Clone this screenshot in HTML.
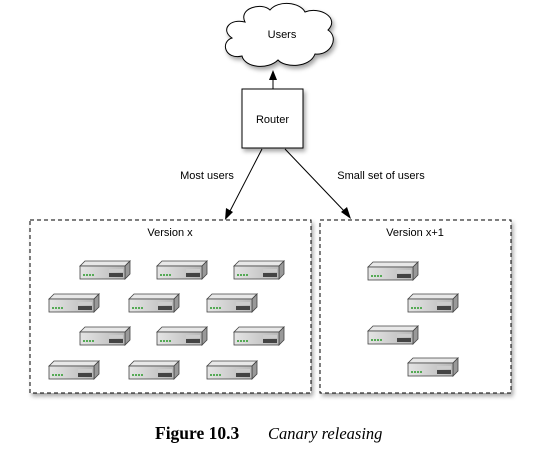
<!DOCTYPE html>
<html><head><style>
html,body{margin:0;padding:0;background:#fff;width:542px;height:450px;overflow:hidden}
</style></head><body>
<svg width="542" height="450" viewBox="0 0 542 450" xmlns="http://www.w3.org/2000/svg">
<defs>
<filter id="sh" x="-20%" y="-20%" width="150%" height="150%"><feDropShadow dx="2" dy="3" stdDeviation="2" flood-color="#000" flood-opacity="0.35"/></filter>
<linearGradient id="fr" x1="0" y1="0" x2="1" y2="0"><stop offset="0" stop-color="#e4e4e4"/><stop offset="1" stop-color="#b8b8b8"/></linearGradient>
<g id="srv">
<polygon points="0,5 5,0 50,0 45,5" fill="#e8e8e8" stroke="#444" stroke-width="0.8"/>
<polygon points="45,5 50,0 50,13 45,18" fill="#999" stroke="#444" stroke-width="0.8"/>
<rect x="0" y="5" width="45" height="13" fill="url(#fr)" stroke="#444" stroke-width="0.8"/>
<rect x="29" y="8" width="14" height="3" fill="#ccc"/>
<rect x="29" y="12" width="14" height="4" fill="#444"/>
<rect x="3" y="13" width="2" height="2" fill="#5a5"/><rect x="6" y="13" width="2" height="2" fill="#5a5"/><rect x="9" y="13" width="2" height="2" fill="#5a5"/><rect x="12" y="13" width="2" height="2" fill="#5a5"/>
</g>
</defs>
<path d="M245,22 C238,8 262,2 270,10 C278,0 300,2 305,12 C320,6 340,18 328,30 C340,38 330,56 315,54 C310,68 285,68 278,60 C268,70 245,68 242,56 C225,60 220,42 232,38 C220,30 230,18 245,22 Z" fill="#fff" stroke="#000" stroke-width="1" filter="url(#sh)"/>
<text x="282" y="38" font-family="Liberation Sans, sans-serif" font-size="11" text-anchor="middle">Users</text>
<line x1="273" y1="89" x2="273" y2="78" stroke="#000" stroke-width="1"/>
<polygon points="273,70 269,80 277,80" fill="#000"/>
<rect x="242" y="89" width="61" height="59" fill="#fff" stroke="#000" stroke-width="1" filter="url(#sh)"/>
<text x="272.5" y="123" font-family="Liberation Sans, sans-serif" font-size="11" text-anchor="middle">Router</text>
<line x1="262" y1="149" x2="229" y2="213" stroke="#000"/>
<polygon points="225,220 226,208 233,212" fill="#000"/>
<line x1="285" y1="149" x2="346" y2="213" stroke="#000"/>
<polygon points="351,219 341,212 347,207" fill="#000"/>
<text x="207" y="179" font-family="Liberation Sans, sans-serif" font-size="11" text-anchor="middle">Most users</text>
<text x="381" y="179" font-family="Liberation Sans, sans-serif" font-size="11" text-anchor="middle">Small set of users</text>
<rect x="30" y="220" width="281" height="173" fill="#fff" stroke="#000" stroke-dasharray="4,3" filter="url(#sh)"/>
<rect x="320" y="220" width="191" height="173" fill="#fff" stroke="#000" stroke-dasharray="4,3" filter="url(#sh)"/>
<text x="170" y="236" font-family="Liberation Sans, sans-serif" font-size="11" text-anchor="middle">Version x</text>
<text x="415" y="236" font-family="Liberation Sans, sans-serif" font-size="11" text-anchor="middle">Version x+1</text>
<use href="#srv" x="80" y="261"/><use href="#srv" x="157" y="261"/><use href="#srv" x="234" y="261"/>
<use href="#srv" x="49" y="294"/><use href="#srv" x="129" y="294"/><use href="#srv" x="207" y="294"/>
<use href="#srv" x="80" y="327"/><use href="#srv" x="157" y="327"/><use href="#srv" x="234" y="327"/>
<use href="#srv" x="49" y="361"/><use href="#srv" x="129" y="361"/><use href="#srv" x="207" y="361"/>
<use href="#srv" x="368" y="262"/><use href="#srv" x="408" y="294"/><use href="#srv" x="368" y="326"/><use href="#srv" x="408" y="358"/>
<text x="155" y="439" font-family="Liberation Serif, serif" font-size="17.5" font-weight="bold">Figure 10.3</text>
<text x="268" y="439" font-family="Liberation Serif, serif" font-size="16.5" font-style="italic">Canary releasing</text>
</svg>
</body></html>
